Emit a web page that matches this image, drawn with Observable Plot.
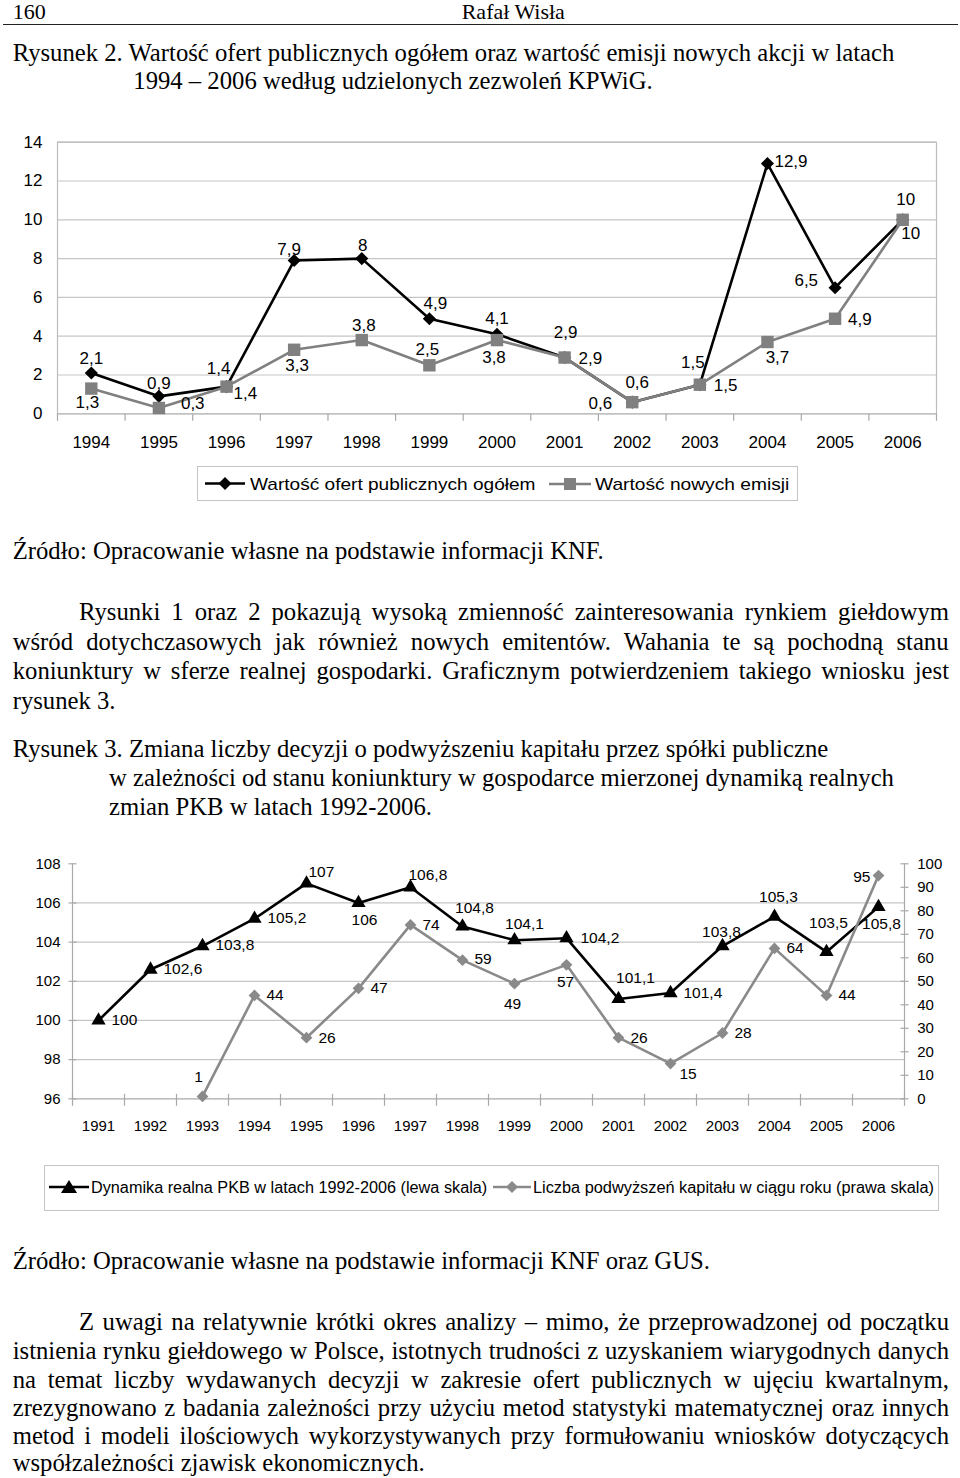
<!DOCTYPE html>
<html lang="pl">
<head>
<meta charset="utf-8">
<script src="https://cdn.jsdelivr.net/npm/d3@7"></script>
<script src="https://cdn.jsdelivr.net/npm/@observablehq/plot@0.6"></script>
<style>
html, body { margin: 0; padding: 0; background: #fff; }
#page { position: relative; width: 960px; height: 1478px; overflow: hidden; background: #fff; }
.t { position: absolute; white-space: pre; color: #000; margin: 0; padding: 0; }
.chart { position: absolute; left: 0; }
.legend { position: absolute; border: 1px solid #c4c4c4; box-sizing: border-box; background: #fff; }
.icon { position: absolute; overflow: visible; }
</style>
</head>
<body>
<div id="page"></div>
<script>
// ---------------- DATA ----------------
// Rysunek 2
const years1 = [1994, 1995, 1996, 1997, 1998, 1999, 2000, 2001, 2002, 2003, 2004, 2005, 2006];
const ofertOgolem = [2.1, 0.9, 1.4, 7.9, 8, 4.9, 4.1, 2.9, 0.6, 1.5, 12.9, 6.5, 10];
const noweEmisje = [1.3, 0.3, 1.4, 3.3, 3.8, 2.5, 3.8, 2.9, 0.6, 1.5, 3.7, 4.9, 10];
const yTicks1 = [0, 2, 4, 6, 8, 10, 12, 14];
const legend1Labels = ["Wartość ofert publicznych ogółem", "Wartość nowych emisji"];

// Rysunek 3
const years2 = [1991, 1992, 1993, 1994, 1995, 1996, 1997, 1998, 1999, 2000, 2001, 2002, 2003, 2004, 2005, 2006];
const pkbDynamika = [100, 102.6, 103.8, 105.2, 107, 106, 106.8, 104.8, 104.1, 104.2, 101.1, 101.4, 103.8, 105.3, 103.5, 105.8];
const podwyzszenia = [null, null, 1, 44, 26, 47, 74, 59, 49, 57, 26, 15, 28, 64, 44, 95];
const yTicksLeft2 = [96, 98, 100, 102, 104, 106, 108];
const yTicksRight2 = [0, 10, 20, 30, 40, 50, 60, 70, 80, 90, 100];
const legend2Labels = ["Dynamika realna PKB w latach 1992-2006 (lewa skala)", "Liczba podwyższeń kapitału w ciągu roku (prawa skala)"];

// Page text
const headerPage = "160";
const headerAuthor = "Rafał Wisła";
const caption2 = ["Rysunek 2. Wartość ofert publicznych ogółem oraz wartość emisji nowych akcji w latach",
                  "1994 – 2006 według udzielonych zezwoleń KPWiG."];
const source2 = "Źródło: Opracowanie własne na podstawie informacji KNF.";
const para1 = ["Rysunki 1 oraz 2 pokazują wysoką zmienność zainteresowania rynkiem giełdowym",
               "wśród dotychczasowych jak również nowych emitentów. Wahania te są pochodną stanu",
               "koniunktury w sferze realnej gospodarki. Graficznym potwierdzeniem takiego wniosku jest",
               "rysunek 3."];
const caption3 = ["Rysunek 3. Zmiana liczby decyzji o podwyższeniu kapitału przez spółki publiczne",
                  "w zależności od stanu koniunktury w gospodarce mierzonej dynamiką realnych",
                  "zmian PKB w latach 1992-2006."];
const source3 = "Źródło: Opracowanie własne na podstawie informacji KNF oraz GUS.";
const para2 = ["Z uwagi na relatywnie krótki okres analizy – mimo, że przeprowadzonej od początku",
               "istnienia rynku giełdowego w Polsce, istotnych trudności z uzyskaniem wiarygodnych danych",
               "na temat liczby wydawanych decyzji w zakresie ofert publicznych w ujęciu kwartalnym,",
               "zrezygnowano z badania zależności przy użyciu metod statystyki matematycznej oraz innych",
               "metod i modeli ilościowych wykorzystywanych przy formułowaniu wniosków dotyczących",
               "współzależności zjawisk ekonomicznych."];

// ---------------- LAYOUT CONFIG (label placement: dx, dy, anchor) ----------------
const place1Ogolem = [[0,-15,"middle"],[0,-13,"middle"],[-8,-18,"middle"],[-5,-11,"middle"],[1,-13,"middle"],[6,-15,"middle"],[0,-16,"middle"],[1,-25,"middle"],[5,-20,"middle"],[-7,-22,"middle"],[7,-2,"start"],[-17,-7,"end"],[3,-20,"middle"]];
const place1Emisje = [[-4,14,"middle"],[22,-4,"start"],[7,7,"start"],[3,16,"middle"],[2,-15,"middle"],[-2,-16,"middle"],[-3,17,"middle"],[14,1,"start"],[-20,1,"end"],[14,1,"start"],[10,16,"middle"],[13,1,"start"],[8,14,"middle"]];
const place2Pkb = [[13,0,"start"],[13,-1,"start"],[13,-1,"start"],[13,-1,"start"],[2,-11,"start"],[6,17,"middle"],[-2,-12,"start"],[12,-18,"middle"],[10,-16,"middle"],[14,0,"start"],[17,-21,"middle"],[13,0,"start"],[-1,-14,"middle"],[4,-20,"middle"],[2,-29,"middle"],[3,17,"middle"]];
const place2Liczba = [null,null,[-4,-19,"middle"],[12,0,"start"],[12,0,"start"],[12,0,"start"],[12,0,"start"],[12,-1,"start"],[-2,20,"middle"],[-1,17,"middle"],[12,0,"start"],[9,10,"start"],[12,0,"start"],[12,0,"start"],[12,0,"start"],[-8,1,"end"]];

const page = document.getElementById("page");
const SANS = "'Liberation Sans', Arial, sans-serif";
const SERIF = "'Liberation Serif', 'Times New Roman', serif";
const fmt = v => String(v).replace(".", ",");

// ---------------- TEXT HELPERS ----------------
const cvs = document.createElement("canvas");
const ctx = cvs.getContext("2d");
function metrics(text, font) { ctx.font = font; return ctx.measureText(text); }

function placeText(text, x, baseline, o) {
  const font = `${o.size}px ${o.family}`;
  const hm = metrics("Hg", font);
  const asc = hm.fontBoundingBoxAscent, desc = hm.fontBoundingBoxDescent;
  const w = metrics(text, font).width;
  const el = document.createElement("div");
  el.className = "t";
  el.textContent = text;
  el.style.font = font;
  el.style.lineHeight = (asc + desc) + "px";
  el.style.left = x + "px";
  el.style.top = (baseline - asc) + "px";
  if (o.justifyTo) {
    const spaces = (text.match(/ /g) || []).length;
    if (spaces > 0) el.style.wordSpacing = ((o.justifyTo - x - w) / spaces) + "px";
  } else if (o.fitTo) {
    el.style.transformOrigin = "0 0";
    el.style.transform = `scaleX(${(o.fitTo - x) / w})`;
  }
  page.appendChild(el);
  return el;
}

// body font size fitted so that caption line 1 matches the reference width
const bodySize = (() => {
  const w = metrics(caption2[0], `24px ${SERIF}`).width;
  return Math.max(20, Math.min(26, 24 * (895 - 12.7) / w));
})();
const B = { size: bodySize, family: SERIF };

// header
placeText(headerPage, 12.7, 18.5, { size: 22, family: SERIF });
placeText(headerAuthor, 461.7, 18.5, { size: 22, family: SERIF });
const rule = document.createElement("div");
Object.assign(rule.style, { position: "absolute", left: "3px", width: "955px", top: "24px", height: "1.2px", background: "#222" });
page.appendChild(rule);

// caption 2
placeText(caption2[0], 12.7, 60.7, B);
placeText(caption2[1], 133.3, 88.5, B);
// source 2
placeText(source2, 12.7, 559, B);
// paragraph 1
const RIGHT = 949;
const p1Base = [620, 650, 679, 709];
para1.forEach((line, i) => placeText(line, i === 0 ? 79 : 12.7, p1Base[i], i < para1.length - 1 ? { ...B, justifyTo: RIGHT } : B));
// caption 3
const c3Base = [757, 786, 815];
caption3.forEach((line, i) => placeText(line, i === 0 ? 12.7 : 109, c3Base[i], B));
// source 3
placeText(source3, 12.7, 1269, B);
// paragraph 2
const p2Base = [1330, 1359, 1388, 1416, 1444, 1471];
para2.forEach((line, i) => placeText(line, i === 0 ? 79 : 12.7, p2Base[i], i < para2.length - 1 ? { ...B, justifyTo: RIGHT } : B));

// ---------------- CHART HELPERS ----------------
const vTickDown = { draw(c) { c.moveTo(0, 0); c.lineTo(0, 7); } };
const vTickCross = { draw(c) { c.moveTo(0, -5); c.lineTo(0, 7); } };
const hTickCross = { draw(c) { c.moveTo(-4, 0); c.lineTo(4, 0); } };

function labelMarks(data, xKey, yFn, values, places, fontSize) {
  const marks = [];
  data.forEach((d, i) => {
    if (values[i] == null || !places[i]) return;
    const [dx, dy, anchor] = places[i];
    marks.push(Plot.text([d], { x: xKey, y: yFn, text: () => fmt(values[i]), dx, dy, textAnchor: anchor, fontSize, fill: "#000" }));
  });
  return marks;
}

function mount(svg, top) {
  const wrap = document.createElement("div");
  wrap.className = "chart";
  wrap.style.top = top + "px";
  wrap.appendChild(svg);
  page.appendChild(wrap);
}

// ---------------- CHART 1 ----------------
const data1 = years1.map((year, i) => ({ year, ogolem: ofertOgolem[i], emisje: noweEmisje[i] }));
const xDom1 = [years1[0] - 0.5, years1[years1.length - 1] + 0.5];
const bounds1 = years1.map(y => y - 0.5).concat([xDom1[1]]);
const BLACK = "#000";
const GRAY1 = "#808080";

const chart1 = Plot.plot({
  width: 960, height: 335,
  marginLeft: 57, marginRight: 24, marginTop: 21.7, marginBottom: 41.7,
  style: { fontFamily: SANS, fontSize: "17px", color: "#000", background: "transparent", overflow: "visible" },
  x: { type: "linear", domain: xDom1, ticks: years1, tickFormat: d => String(d), tickSize: 0, tickPadding: 22, label: null, line: false },
  y: { domain: [0, 14], ticks: yTicks1, tickFormat: d => String(d), tickSize: 0, tickPadding: 15, label: null },
  marks: [
    Plot.ruleY(yTicks1, { stroke: "#c6c6c6", strokeWidth: 1.2 }),
    Plot.frame({ stroke: "#bcbcbc", strokeWidth: 1.2 }),
    Plot.dot(bounds1, { x: d => d, y: () => 0, symbol: vTickDown, stroke: "#a8a8a8", fill: "none", strokeWidth: 1.2 }),
    Plot.line(data1, { x: "year", y: "ogolem", stroke: BLACK, strokeWidth: 2.6 }),
    Plot.dot(data1, { x: "year", y: "ogolem", symbol: "diamond2", r: 5.9, fill: BLACK, stroke: "none" }),
    Plot.line(data1, { x: "year", y: "emisje", stroke: GRAY1, strokeWidth: 2.6 }),
    Plot.dot(data1, { x: "year", y: "emisje", symbol: "square", r: 7, fill: GRAY1, stroke: "none" }),
    ...labelMarks(data1, "year", "ogolem", ofertOgolem, place1Ogolem, 17),
    ...labelMarks(data1, "year", "emisje", noweEmisje, place1Emisje, 17)
  ]
});
mount(chart1, 120);

// ---------------- CHART 2 ----------------
const data2 = years2.map((year, i) => ({ year, pkb: pkbDynamika[i], liczba: podwyzszenia[i] }));
const data2g = data2.filter(d => d.liczba != null);
const xDom2 = [years2[0] - 0.5, years2[years2.length - 1] + 0.5];
const bounds2 = years2.map(y => y - 0.5).concat([xDom2[1]]);
const yDomL = [yTicksLeft2[0], yTicksLeft2[yTicksLeft2.length - 1]];
const yDomR = [yTicksRight2[0], yTicksRight2[yTicksRight2.length - 1]];
const toLeft = v => yDomL[0] + (v - yDomR[0]) / (yDomR[1] - yDomR[0]) * (yDomL[1] - yDomL[0]);
const GRAY2 = "#8a8a8a";
const AXIS2 = "#a9a9a9";
const dataRightTicks = yTicksRight2.map(t => ({ t, y: toLeft(t) }));

const chart2 = Plot.plot({
  width: 960, height: 300,
  marginLeft: 72, marginRight: 56, marginTop: 23.3, marginBottom: 41.7,
  style: { fontFamily: SANS, fontSize: "15px", color: "#000", background: "transparent", overflow: "visible" },
  x: { type: "linear", domain: xDom2, ticks: years2, tickFormat: d => String(d), tickSize: 0, tickPadding: 21.3, label: null, line: false },
  y: { domain: yDomL, ticks: yTicksLeft2, tickFormat: d => String(d), tickSize: 0, tickPadding: 12, label: null },
  marks: [
    Plot.ruleY(yTicksLeft2.slice(1, -1), { stroke: "#c6c6c6", strokeWidth: 1.2 }),
    Plot.ruleY([yDomL[0]], { stroke: AXIS2, strokeWidth: 1.2 }),
    Plot.ruleX(xDom2, { stroke: AXIS2, strokeWidth: 1.2 }),
    Plot.dot(yTicksLeft2, { x: () => xDom2[0], y: d => d, symbol: hTickCross, stroke: AXIS2, fill: "none", strokeWidth: 1.2 }),
    Plot.dot(dataRightTicks, { x: () => xDom2[1], y: "y", symbol: hTickCross, stroke: AXIS2, fill: "none", strokeWidth: 1.2 }),
    Plot.dot(bounds2, { x: d => d, y: () => yDomL[0], symbol: vTickCross, stroke: AXIS2, fill: "none", strokeWidth: 1.2 }),
    Plot.text(dataRightTicks, { x: () => xDom2[1], y: "y", text: d => String(d.t), textAnchor: "start", dx: 12.7, fill: "#000" }),
    Plot.line(data2, { x: "year", y: "pkb", stroke: BLACK, strokeWidth: 2.6 }),
    Plot.dot(data2, { x: "year", y: "pkb", symbol: "triangle", r: 5.3, fill: BLACK, stroke: "none" }),
    Plot.line(data2g, { x: "year", y: d => toLeft(d.liczba), stroke: GRAY2, strokeWidth: 2.6 }),
    Plot.dot(data2g, { x: "year", y: d => toLeft(d.liczba), symbol: "diamond2", r: 5.3, fill: GRAY2, stroke: "none" }),
    ...labelMarks(data2, "year", "pkb", pkbDynamika, place2Pkb, 15.5),
    ...labelMarks(data2, "year", d => toLeft(d.liczba), podwyzszenia, place2Liczba, 15.5)
  ]
});
mount(chart2, 840);

// ---------------- LEGENDS ----------------
function box(left, top, width, height) {
  const el = document.createElement("div");
  el.className = "legend";
  Object.assign(el.style, { left: left + "px", top: top + "px", width: width + "px", height: height + "px" });
  page.appendChild(el);
}
function icon(x1, x2, cy, color, shape, half) {
  const ns = "http://www.w3.org/2000/svg";
  const svg = document.createElementNS(ns, "svg");
  svg.setAttribute("class", "icon");
  svg.setAttribute("width", x2 - x1 + 2);
  svg.setAttribute("height", 2 * half + 4);
  svg.style.left = (x1 - 1) + "px";
  svg.style.top = (cy - half - 2) + "px";
  const oy = half + 2, cx = (x2 - x1) / 2 + 1;
  const line = document.createElementNS(ns, "line");
  line.setAttribute("x1", 1); line.setAttribute("x2", x2 - x1 + 1);
  line.setAttribute("y1", oy); line.setAttribute("y2", oy);
  line.setAttribute("stroke", color); line.setAttribute("stroke-width", 2.6);
  svg.appendChild(line);
  const p = document.createElementNS(ns, "path");
  let d;
  if (shape === "diamond") d = `M${cx},${oy - half}L${cx + half},${oy}L${cx},${oy + half}L${cx - half},${oy}Z`;
  else if (shape === "square") d = `M${cx - half},${oy - half}h${2 * half}v${2 * half}h${-2 * half}Z`;
  else d = `M${cx},${oy - half}L${cx + half * 1.15},${oy + half * 0.85}L${cx - half * 1.15},${oy + half * 0.85}Z`;
  p.setAttribute("d", d); p.setAttribute("fill", color);
  svg.appendChild(p);
  page.appendChild(svg);
}

// legend 1
box(197, 466, 601, 35);
icon(205, 245, 483.5, BLACK, "diamond", 6.5);
placeText(legend1Labels[0], 249.5, 489.5, { size: 17, family: SANS, fitTo: 535 });
icon(549, 591, 483.5, GRAY1, "square", 6);
placeText(legend1Labels[1], 594.7, 489.5, { size: 17, family: SANS, fitTo: 789 });

// legend 2
box(44, 1165, 895, 46);
icon(49, 89, 1187, BLACK, "triangle", 7);
placeText(legend2Labels[0], 90.8, 1192.5, { size: 16, family: SANS, fitTo: 487 });
icon(493, 531, 1187, GRAY2, "diamond", 6);
placeText(legend2Labels[1], 533, 1192.5, { size: 16, family: SANS, fitTo: 934 });
</script>
</body>
</html>
